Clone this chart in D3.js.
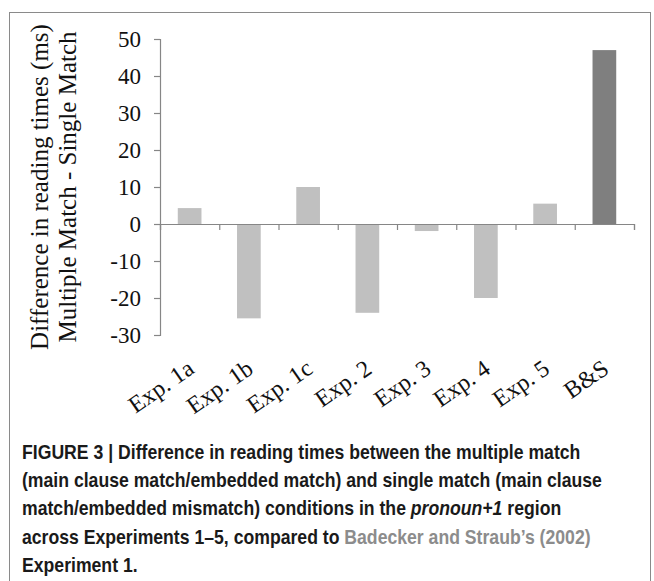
<!DOCTYPE html>
<html>
<head>
<meta charset="utf-8">
<script src="https://cdn.jsdelivr.net/npm/d3@7"></script>
<style>
  body { margin: 0; background: #fff; }
  svg { display: block; }
</style>
</head>
<body>
<div id="chart"></div>
<script>
// reading time differences, multiple match minus single match (ms)
var categories = ["Exp. 1a", "Exp. 1b", "Exp. 1c", "Exp. 2", "Exp. 3", "Exp. 4", "Exp. 5", "B&S"];
var diffs = [4.3, -25.5, 10, -24, -1.9, -20, 5.5, 47];
var yTicks = [-30, -20, -10, 0, 10, 20, 30, 40, 50];
var yTitle = ["Difference in reading times (ms)", "Multiple Match - Single Match"];

// caption, one array per line, pieces are [text, style]
var caption = [
  [["FIGURE 3 | Difference in reading times between the multiple match", ""]],
  [["(main clause match/embedded match) and single match (main clause", ""]],
  [["match/embedded mismatch) conditions in the ", ""], ["pronoun+1", "i"], [" region", ""]],
  [["across Experiments 1\u20135, compared to ", ""], ["Badecker and Straub\u2019s (2002)", "link"]],
  [["Experiment 1.", ""]]
];

var width = 654, height = 581;
var serif = "'Liberation Serif', 'Times New Roman', serif";
var svg = d3.select("#chart").append("svg")
  .attr("width", width)
  .attr("height", height);

// figure frame
svg.append("rect")
  .attr("x", 9.5).attr("y", 12.5)
  .attr("width", 641).attr("height", 620)
  .attr("fill", "none")
  .attr("stroke", "#8a8a8a")
  .attr("stroke-width", 1);

var plotLeft = 160, plotRight = 634, plotTop = 39, plotBottom = 335;

var x = d3.scaleBand()
  .domain(categories)
  .range([plotLeft, plotRight])
  .paddingInner(0.6)
  .paddingOuter(0.3);

var y = d3.scaleLinear()
  .domain([-30, 50])
  .range([plotBottom, plotTop]);

var axisColor = "#868686";

// bars
svg.append("g").selectAll("rect")
  .data(diffs)
  .enter()
  .append("rect")
  .attr("x", (d, i) => x(categories[i]))
  .attr("width", x.bandwidth())
  .attr("y", d => y(Math.max(0, d)))
  .attr("height", d => Math.abs(y(d) - y(0)))
  .attr("fill", (d, i) => categories[i] == "B&S" ? "#7f7f7f" : "#c0c0c0");

// y axis
var yAxis = svg.append("g")
  .attr("transform", "translate(" + plotLeft + ",0)")
  .call(d3.axisLeft(y).tickValues(yTicks).tickSize(6).tickPadding(13).tickFormat(d => String(d)));
yAxis.select(".domain").attr("stroke", axisColor).attr("stroke-width", 1.2);
yAxis.selectAll(".tick line").attr("stroke", axisColor).attr("stroke-width", 1.2);
yAxis.selectAll(".tick text")
  .attr("fill", "#111")
  .style("font-family", serif)
  .style("font-size", "23px");

// x axis at zero, ticks between categories
var bounds = d3.scaleLinear().domain([0, categories.length]).range([plotLeft, plotRight]);
var xAxis = svg.append("g")
  .attr("transform", "translate(0," + y(0) + ")")
  .call(d3.axisBottom(bounds).ticks(categories.length).tickSizeOuter(0).tickSize(6).tickFormat(""));
xAxis.select(".domain").attr("stroke", axisColor).attr("stroke-width", 1.2);
xAxis.selectAll(".tick line").attr("stroke", axisColor).attr("stroke-width", 1.2);

// rotated category labels under the plot
svg.append("g").selectAll("text")
  .data(categories)
  .enter()
  .append("text")
  .attr("transform", d => "translate(" + (x(d) + x.bandwidth() / 2 + 6) + "," + (plotBottom + 37) + ") rotate(-35)")
  .attr("text-anchor", "end")
  .attr("fill", "#111")
  .style("font-family", serif)
  .style("font-size", "24px")
  .text(d => d);

// y axis title
svg.append("g").selectAll("text")
  .data(yTitle)
  .enter()
  .append("text")
  .attr("transform", (d, i) => "translate(" + (48 + i * 28) + "," + ((plotTop + plotBottom) / 2) + ") rotate(-90)")
  .attr("text-anchor", "middle")
  .attr("fill", "#111")
  .style("font-family", serif)
  .style("font-size", "25px")
  .text(d => d);

// caption, squeezed to look like a condensed face
var cap = svg.append("text")
  .attr("transform", "translate(22,459) scale(0.882,1)")
  .attr("fill", "#1a1a1a")
  .style("font-family", "'Liberation Sans', Arial, sans-serif")
  .style("font-size", "20px")
  .style("font-weight", "bold");

caption.forEach(function(line, li) {
  line.forEach(function(piece, pi) {
    var t = cap.append("tspan").text(piece[0]);
    if (pi == 0) t.attr("x", 0).attr("dy", li == 0 ? 0 : 28.2);
    if (piece[1] == "i") t.style("font-style", "italic");
    if (piece[1] == "link") t.attr("fill", "#8c8c8c");
  });
});
</script>
</body>
</html>
